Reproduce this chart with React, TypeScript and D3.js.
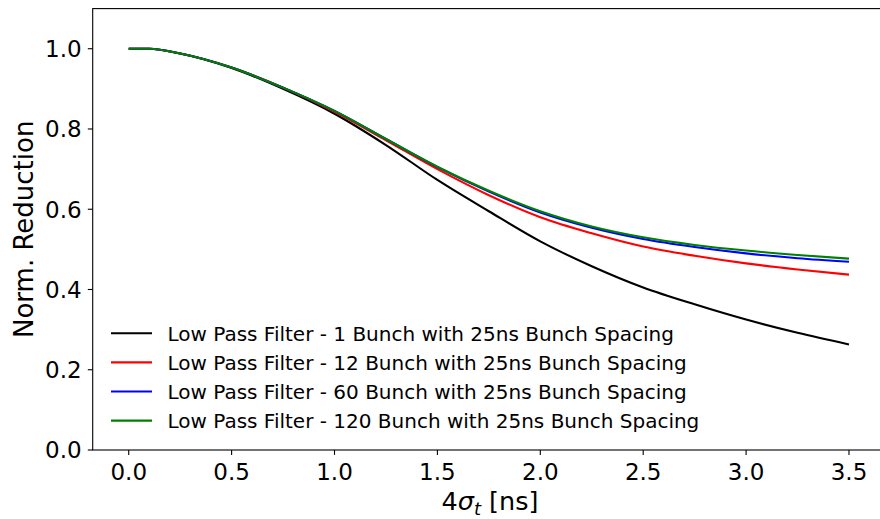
import React from "react";
import * as d3 from "d3";

// Bunch length 4σ_t in ns
const sigmaX = [0, 0.1, 0.25, 0.5, 0.75, 1.0, 1.25, 1.5, 1.75, 2.0, 2.25, 2.5, 2.75, 3.0, 3.25, 3.5];

// Normalised reduction for each filling pattern
const bunch1 = [1.0, 1.0, 0.988, 0.952, 0.9, 0.838, 0.76, 0.673, 0.595, 0.52, 0.458, 0.405, 0.363, 0.325, 0.292, 0.263];
const bunch12 = [1.0, 1.0, 0.988, 0.953, 0.903, 0.843, 0.772, 0.7, 0.635, 0.58, 0.54, 0.507, 0.484, 0.465, 0.45, 0.437];
const bunch60 = [1.0, 1.0, 0.988, 0.953, 0.903, 0.845, 0.775, 0.705, 0.644, 0.592, 0.554, 0.526, 0.506, 0.49, 0.478, 0.469];
const bunch120 = [1.0, 1.0, 0.988, 0.953, 0.903, 0.845, 0.775, 0.706, 0.646, 0.595, 0.557, 0.53, 0.511, 0.497, 0.486, 0.477];

const seriesLabels = [
  "Low Pass Filter - 1 Bunch with 25ns Bunch Spacing",
  "Low Pass Filter - 12 Bunch with 25ns Bunch Spacing",
  "Low Pass Filter - 60 Bunch with 25ns Bunch Spacing",
  "Low Pass Filter - 120 Bunch with 25ns Bunch Spacing",
];
const seriesColors = ["#000000", "#ff0000", "#0000ff", "#008000"];
const seriesValues = [bunch1, bunch12, bunch60, bunch120];

const xTicks = [0, 0.5, 1, 1.5, 2, 2.5, 3, 3.5];
const yTicks = [0, 0.2, 0.4, 0.6, 0.8, 1.0];

const W = 880;
const H = 519;
const FONT = "'DejaVu Sans', sans-serif";

export default function App() {
  const x = d3.scaleLinear().domain([-0.175, 3.675]).range([92.7, 885]);
  const y = d3.scaleLinear().domain([0, 1.1]).range([450, 8.6]);

  const line = d3
    .line<[number, number]>()
    .x((d) => x(d[0]))
    .y((d) => y(d[1]))
    .curve(d3.curveMonotoneX);

  const [x0, x1] = x.range();
  const [yb, yt] = y.range();

  return (
    <svg
      width={W}
      height={H}
      style={{ position: "absolute", left: 0, top: 0, background: "#fff" }}
      fontFamily={FONT}
    >
      <rect x={0} y={0} width={W} height={H} fill="#fff" />

      {/* curves */}
      {seriesValues.map((vals, i) => (
        <path
          key={i}
          d={line(sigmaX.map((s, j) => [s, vals[j]] as [number, number])) || ""}
          fill="none"
          stroke={seriesColors[i]}
          strokeWidth={2.1}
        />
      ))}

      {/* frame */}
      <rect x={x0} y={yt} width={x1 - x0} height={yb - yt} fill="none" stroke="#000" strokeWidth={1.1} />

      {/* x ticks */}
      {xTicks.map((t) => (
        <g key={"x" + t} transform={`translate(${x(t)},${yb})`}>
          <line y1={0} y2={4.9} stroke="#000" strokeWidth={1.1} />
          <text y={29.5} textAnchor="middle" fontSize={23} fill="#000">
            {t.toFixed(1)}
          </text>
        </g>
      ))}

      {/* y ticks */}
      {yTicks.map((t) => (
        <g key={"y" + t} transform={`translate(${x0},${y(t)})`}>
          <line x1={0} x2={-4.9} stroke="#000" strokeWidth={1.1} />
          <text x={-11} dy="0.36em" textAnchor="end" fontSize={23} fill="#000">
            {t.toFixed(1)}
          </text>
        </g>
      ))}

      {/* axis labels */}
      <text x={490} y={510} textAnchor="middle" fontSize={25.5} fill="#000">
        <tspan>4</tspan>
        <tspan fontStyle="italic">σ</tspan>
        <tspan fontStyle="italic" fontSize={18} dy={4.5}>t</tspan>
        <tspan dy={-4.5}> [ns]</tspan>
      </text>
      <text
        transform={`translate(32.5,${(yb + yt) / 2}) rotate(-90)`}
        textAnchor="middle"
        fontSize={26}
        fill="#000"
      >
        Norm. Reduction
      </text>

      {/* legend */}
      {seriesLabels.map((lab, i) => {
        const ly = 333.3 + i * 29.1;
        return (
          <g key={"l" + i}>
            <line x1={111} x2={152} y1={ly} y2={ly} stroke={seriesColors[i]} strokeWidth={2.1} />
            <text x={167.5} y={ly} dy="0.36em" fontSize={20} fill="#000">
              {lab}
            </text>
          </g>
        );
      })}
    </svg>
  );
}
